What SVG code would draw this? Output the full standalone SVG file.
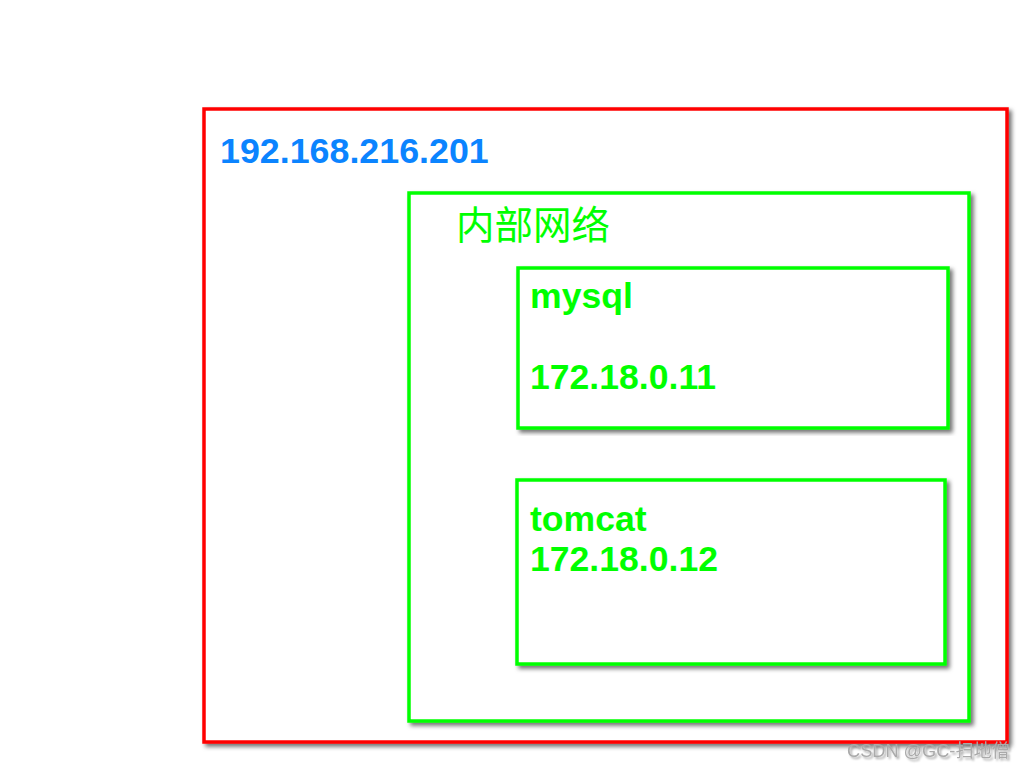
<svg xmlns="http://www.w3.org/2000/svg" width="1024" height="768" viewBox="0 0 1024 768">
<defs>
<filter id="sh" x="-5%" y="-5%" width="110%" height="110%">
<feGaussianBlur in="SourceAlpha" stdDeviation="2"/>
<feOffset dx="3" dy="3" result="b"/>
<feFlood flood-color="#000" flood-opacity="0.55"/>
<feComposite in2="b" operator="in"/>
<feMerge><feMergeNode/><feMergeNode in="SourceGraphic"/></feMerge>
</filter>
<filter id="tsh" x="-5%" y="-20%" width="110%" height="140%">
<feGaussianBlur in="SourceAlpha" stdDeviation="1"/>
<feOffset dx="1.5" dy="1.5" result="b"/>
<feFlood flood-color="#000" flood-opacity="0.35"/>
<feComposite in2="b" operator="in"/>
<feMerge><feMergeNode/><feMergeNode in="SourceGraphic"/></feMerge>
</filter>
</defs>
<style>
.box{fill:#fff;stroke-width:3.5;filter:url(#sh)}
.red{stroke:#ff0000}
.grn{stroke:#00ff00}
.t{font-family:"Liberation Sans",Arial,sans-serif;font-weight:bold;font-size:35.6px;fill:#00ff00}
.cjk{font-family:"Noto Sans CJK SC","Liberation Sans",sans-serif;font-size:38.5px;fill:#00ff00}
</style>
<rect width="1024" height="768" fill="#fff"/>
<g id="host">
<rect class="box red" x="204" y="109" width="803" height="633"/>
<text x="220" y="163" font-family="Liberation Sans, Arial, sans-serif" font-weight="bold" font-size="35.8" fill="#0b84ff">192.168.216.201</text>
</g>
<g id="network">
<rect class="box grn" x="409" y="193" width="560" height="528"/>
<text class="cjk" x="456" y="239">内部网络</text>
</g>
<g id="mysql">
<rect class="box grn" x="518" y="268" width="430" height="160"/>
<text class="t" x="530" y="308">mysql</text>
<text class="t" x="530" y="389">172.18.0.11</text>
</g>
<g id="tomcat">
<rect class="box grn" x="517" y="480" width="428" height="184"/>
<text class="t" x="530" y="531">tomcat</text>
<text class="t" x="530" y="571">172.18.0.12</text>
</g>
<g id="connectors"></g>
<text x="847" y="757" font-family="Liberation Sans, Noto Sans CJK SC, sans-serif" font-size="18.2" fill="#aaa" filter="url(#tsh)">CSDN @GC-扫地僧</text>
</svg>
